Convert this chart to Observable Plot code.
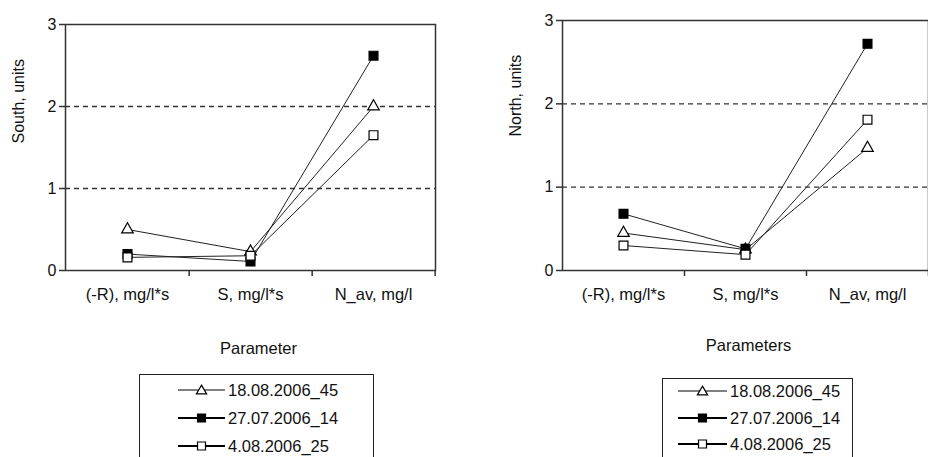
<!DOCTYPE html>
<html>
<head>
<meta charset="utf-8">
<script src="https://cdn.jsdelivr.net/npm/d3@7"></script>
<script src="https://cdn.jsdelivr.net/npm/@observablehq/plot@0.6"></script>
<style>
  html, body { margin: 0; padding: 0; background: #fff; overflow: hidden; }
  #wrap { position: relative; width: 928px; height: 457px; overflow: hidden; font-family: "Liberation Sans", Arial, sans-serif; color: #111; }
  .panel { position: absolute; top: 0; }
  .legend { position: absolute; border: 1.5px solid #222; background: #fff; font-size: 16.5px; }
  .legend .row { position: absolute; display: flex; align-items: center; white-space: nowrap; }
  .legend svg { display: block; }
</style>
</head>
<body>
<div id="wrap"></div>
<script>
// ---- data ----
const categories = ["(-R), mg/l*s", "S, mg/l*s", "N_av, mg/l"];
const seriesNames = ["18.08.2006_45", "27.07.2006_14", "4.08.2006_25"];
const seriesSymbols = ["triangle", "square", "square"];
const seriesFills = ["white", "black", "white"];
const yTicks = [0, 1, 2, 3];
const gridLevels = [1, 2];

const southTri    = [0.50, 0.23, 2.00];
const southFilled = [0.20, 0.11, 2.62];
const southOpen   = [0.16, 0.18, 1.65];

const northTri    = [0.45, 0.25, 1.47];
const northFilled = [0.68, 0.26, 2.72];
const northOpen   = [0.30, 0.19, 1.81];

function toRows(arrays) {
  const rows = [];
  arrays.forEach((vals, s) => vals.forEach((v, i) => rows.push({series: seriesNames[s], s, cat: categories[i], value: v})));
  return rows;
}

const FONT = "Liberation Sans, Arial, sans-serif";

function makePanel({rows, yLabel, xTitle, marginLeft, marginTop, marginRight, ylDx, ylDy, xtDx, xtDy}) {
  const width = 464, height = 457, marginBottom = 187;
  const plotW = width - marginLeft - marginRight;
  const half = plotW / categories.length / 2;
  const marks = [
    Plot.ruleY(gridLevels, {stroke: "#333", strokeWidth: 1.3, strokeDasharray: "5,4"}),
    Plot.frame({stroke: "#333", strokeWidth: 1.5}),
    Plot.ruleX(categories, {x: d => d, y1: 0, y2: 0, insetBottom: -6, dx: half, stroke: "#333", strokeWidth: 1.5}),
    Plot.axisY({ticks: yTicks, tickFormat: d3.format("d"), tickSize: 6, tickPadding: 3, label: null, fontSize: 16, stroke: "#333", strokeWidth: 1.5, fill: "#111"}),
    Plot.axisX({tickSize: 0, tickPadding: 18, label: null, fontSize: 16.5, fill: "#111"}),
  ];
  seriesNames.forEach((name, s) => {
    const data = rows.filter(r => r.s === s);
    marks.push(Plot.line(data, {x: "cat", y: "value", stroke: "#222", strokeWidth: 1}));
  });
  seriesNames.forEach((name, s) => {
    const data = rows.filter(r => r.s === s);
    marks.push(Plot.dot(data, {x: "cat", y: "value", symbol: () => seriesSymbols[s], r: seriesSymbols[s] === "triangle" ? 4.3 : 5, fill: seriesFills[s], stroke: "#000", strokeWidth: 1.2}));
  });
  marks.push(Plot.text([yLabel], {text: d => d, frameAnchor: "left", rotate: -90, dx: ylDx, dy: ylDy, fontSize: 16, fill: "#111"}));
  marks.push(Plot.text([xTitle], {text: d => d, frameAnchor: "bottom", dx: xtDx, dy: xtDy, fontSize: 16.5, fill: "#111"}));
  return Plot.plot({
    width, height, marginLeft, marginRight, marginTop, marginBottom,
    style: {fontFamily: FONT, background: "transparent", overflow: "visible"},
    x: {type: "point", domain: categories, padding: 0.5},
    y: {domain: [0, 3]},
    marks
  });
}

const wrap = document.getElementById("wrap");

const left = makePanel({rows: toRows([southTri, southFilled, southOpen]), yLabel: "South, units", xTitle: "Parameter",
  marginLeft: 65, marginTop: 24, marginRight: 29, ylDx: -46.5, ylDy: -4, xtDx: 8, xtDy: 83});
left.classList.add("panel"); left.style.left = "0px";
wrap.appendChild(left);

const right = makePanel({rows: toRows([northTri, northFilled, northOpen]), yLabel: "North, units", xTitle: "Parameters",
  marginLeft: 98, marginTop: 20, marginRight: 0, ylDx: -47, ylDy: -9, xtDx: 3, xtDy: 80});
right.classList.add("panel"); right.style.left = "464px";
wrap.appendChild(right);

function makeLegend(box) {
  const lg = document.createElement("div");
  lg.className = "legend";
  Object.assign(lg.style, {left: box.left + "px", top: box.top + "px", width: box.width + "px", height: "120px"});
  seriesNames.forEach((name, s) => {
    const row = document.createElement("div");
    row.className = "row";
    row.style.left = box.sampleLeft + "px";
    row.style.top = (box.rowY[s] - box.top - 11) + "px";
    row.style.height = "22px";
    const w = box.sampleW;
    const svg = d3.create("svg").attr("width", w + 3).attr("height", 22);
    svg.append("line").attr("x1", 0).attr("x2", w).attr("y1", 11).attr("y2", 11).attr("stroke", "#000").attr("stroke-width", s === 0 ? 1.2 : 1.8);
    const sym = seriesSymbols[s] === "triangle" ? d3.symbolTriangle : d3.symbolSquare;
    const size = seriesSymbols[s] === "triangle" ? Math.PI * 3.8 * 3.8 : Math.PI * 4.5 * 4.5;
    svg.append("path").attr("d", d3.symbol(sym, size)()).attr("transform", `translate(${w / 2},${seriesSymbols[s] === "triangle" ? 12 : 11})`)
      .attr("fill", seriesFills[s]).attr("stroke", "#000").attr("stroke-width", 1.2);
    row.appendChild(svg.node());
    const t = document.createElement("span");
    t.textContent = name;
    t.style.marginLeft = "0px";
    row.appendChild(t);
    lg.appendChild(row);
  });
  wrap.appendChild(lg);
}

makeLegend({left: 139, top: 374, width: 233, sampleLeft: 38, sampleW: 47, rowY: [389, 417, 445]});
makeLegend({left: 662, top: 378, width: 189, sampleLeft: 15, sampleW: 49, rowY: [390, 417, 443]});
</script>
</body>
</html>
